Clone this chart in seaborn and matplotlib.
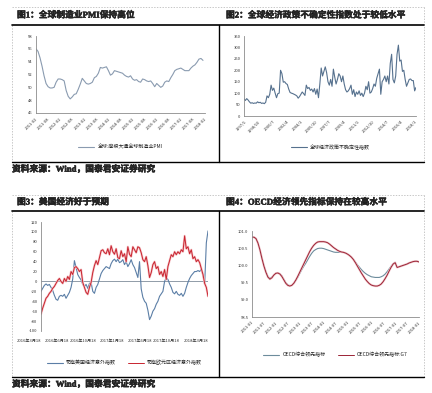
import numpy as np
import pandas as pd
import seaborn as sns
import matplotlib.pyplot as plt
import matplotlib.patheffects as pe
from matplotlib.lines import Line2D

# --- chart 1: global manufacturing PMI, monthly from 2011-02
pmi = [56.0, 55.6, 54.6, 53.3, 51.8, 50.6, 50.1, 49.9, 49.9, 50.0,
       50.8, 51.3, 51.3, 51.2, 51.0, 49.5, 48.6, 48.2, 48.5, 48.9,
       49.0, 49.7, 50.5, 51.4, 51.0, 50.6, 50.5, 50.6, 50.8, 51.5,
       51.7, 52.2, 53.1, 53.0, 53.1, 53.2, 52.6, 51.9, 52.1, 52.6,
       52.5, 52.4, 52.3, 52.2, 51.9, 51.7, 51.6, 51.8, 51.3, 51.1,
       51.2, 50.9, 50.8, 51.3, 51.2, 51.0, 50.9, 51.0, 50.6, 50.1,
       50.6, 50.3, 50.0, 50.2, 50.8, 51.0, 50.9, 51.5, 52.0, 52.6,
       52.8, 52.9, 53.0, 52.8, 52.6, 52.6, 52.6, 53.0, 53.3, 53.5,
       53.9, 54.4, 54.5, 54.2]
pmi_ticks = ['2011-02', '2011-08', '2012-02', '2012-08', '2013-02', '2013-08',
             '2014-02', '2014-08', '2015-02', '2015-08', '2016-02', '2016-08',
             '2017-02', '2017-08', '2018-02']

# --- chart 2: global economic policy uncertainty, read every 2 months from 1997/1
epu = [75, 68, 76, 70, 62, 56, 58, 55, 57, 56,
       62, 58, 60, 55, 57, 54, 60, 88, 80, 95,
       135, 112, 122, 100, 80, 98, 100, 200, 185, 148,
       150, 142, 138, 118, 103, 100, 98, 95, 92, 88,
       78, 85, 95, 105, 98, 90, 135, 120, 125, 112,
       118, 105, 120, 95, 118, 80, 140, 210, 175, 195,
       215, 190, 150, 135, 160, 130, 205, 170, 140, 160,
       185, 175, 150, 175, 140, 115, 105, 110, 120, 135,
       95, 115, 85, 105, 95, 110, 90, 100, 85, 100,
       130, 115, 150, 100, 105, 120, 140, 130, 165, 185,
       205, 95, 150, 160, 175, 150, 175, 140, 230, 270,
       160, 145, 175, 270, 310, 240, 245, 195, 200, 160,
       130, 145, 160, 162, 155, 155, 110, 125]
epu_ticks = ['1997/1', '1998/10', '2000/7', '2002/4', '2004/1', '2005/10', '2007/7',
             '2009/4', '2011/1', '2012/10', '2014/7', '2016/4', '2018/1']

# --- chart 3: citi surprise indices
cesi_us = [-20, -14, -8, -5, -8, -6, -12, -18, -28, -36,
           -38, -30, -28, -30, -26, -34, -28, -22, -12, 5,
           42, 28, 14, 8, 3, -6, -10, -6, -14, -4,
           -2, -20, -24, -12, -6, 5, 16, 22, 26, 30,
           28, 26, 36, 42, 45, 40, 45, 38, 40, 44,
           34, 40, 30, 36, 44, 34, 28, 18, 8, 40,
           -15, -32, -40, -44, -58, -77, -70, -60, -55, -46,
           -40, -30, -25, -20, 0, 8, 4, -5, -12, -22,
           -25, -20, -26, -28, -24, -30, -24, -12, -2, 6,
           12, 16, 20, 20, 22, 20, 25, 12, -6, 78, 102]
cesi_ez = [-66, -54, -44, -34, -30, -24, -20, -14, -10, -4,
           2, 6, 0, -4, 6, 0, 10, 4, 20, 14,
           28, 30, 26, 20, 24, -2, -12, -22, -26, -12,
           -2, 18, 32, 42, 34, 48, 62, 64, 58, 56,
           66, 54, 72, 60, 55, 66, 48, 46, 62, 50,
           56, 40, 70, 55, 50, 70, 64, 58, 70, 68,
           58, 44, 40, 50, 32, 8, 18, 34, 40, 26,
           30, 14, 20, 10, 24, 4, 30, 42, 54, 50,
           60, 54, 60, 56, 64, 60, 92, 66, 70, 56,
           64, 46, 50, 40, 44, 38, 26, 14, -4, -12, -30]
cesi_ticks = ['2016年3月18', '2016年6月18', '2016年10月18', '2017年1月18',
              '2017年6月18', '2017年10月18', '2018年3月18']

# --- chart 4: OECD composite leading indicators, monthly from 2011-01
cli_all = [100.82, 100.82, 100.78, 100.65, 100.45, 100.22, 100.0, 99.82, 99.68, 99.63,
           99.66, 99.72, 99.77, 99.78, 99.76, 99.7, 99.6, 99.5, 99.44, 99.41,
           99.42, 99.47, 99.56, 99.65, 99.76, 99.87, 99.97, 100.06, 100.16, 100.26,
           100.35, 100.42, 100.46, 100.49, 100.5, 100.5, 100.49, 100.47, 100.45, 100.43,
           100.41, 100.39, 100.38, 100.38, 100.38, 100.38, 100.38, 100.36, 100.33, 100.29,
           100.24, 100.18, 100.1, 100.02, 99.95, 99.88, 99.82, 99.77, 99.73, 99.7,
           99.67, 99.66, 99.65, 99.65, 99.65, 99.67, 99.7, 99.75, 99.82, 99.9,
           99.98, 100.05, 100.09, 99.94, 99.96, 99.98, 100.0, 100.02, 100.04, 100.07,
           100.09, 100.11, 100.12, 100.12, 100.1]
cli_g7 = [100.82, 100.82, 100.78, 100.65, 100.45, 100.2, 99.98, 99.8, 99.66, 99.6,
          99.64, 99.72, 99.77, 99.78, 99.75, 99.68, 99.58, 99.48, 99.42, 99.4,
          99.42, 99.48, 99.57, 99.68, 99.8, 99.92, 100.04, 100.16, 100.28, 100.4,
          100.5, 100.58, 100.64, 100.68, 100.69, 100.69, 100.69, 100.68, 100.66, 100.62,
          100.57, 100.52, 100.48, 100.44, 100.41, 100.39, 100.38, 100.36, 100.33, 100.29,
          100.24, 100.17, 100.08, 99.98, 99.88, 99.78, 99.69, 99.6, 99.53, 99.47,
          99.43, 99.41, 99.4, 99.4, 99.42, 99.46, 99.53, 99.62, 99.72, 99.84,
          99.95, 100.04, 100.08, 99.94, 99.96, 99.98, 100.0, 100.02, 100.04, 100.07,
          100.09, 100.11, 100.12, 100.12, 100.1]
cli_ticks = ['2011-01', '2011-07', '2012-01', '2012-07', '2013-01', '2013-07',
             '2014-01', '2014-07', '2015-01', '2015-07', '2016-01', '2016-07',
             '2017-01', '2017-07', '2018-01']

sns.set_style('white')
plt.rcParams['font.family'] = ['Noto Sans CJK SC', 'DejaVu Sans']
plt.rcParams['axes.unicode_minus'] = False

W, H = 432, 393
fig = plt.figure(figsize=(W / 100, H / 100), dpi=100)
TITLE_FONT = ['Liberation Serif', 'Noto Sans CJK SC']
HEAVY = [pe.withStroke(linewidth=0.3, foreground='black')]


def px_axes(x0, y0, x1, y1):
    return fig.add_axes([x0 / W, 1 - y1 / H, (x1 - x0) / W, (y1 - y0) / H])


def fline(xs, ys, **kw):
    fig.add_artist(Line2D([x / W for x in xs], [1 - y / H for y in ys],
                          transform=fig.transFigure, **kw))


def style(ax):
    for s in ['top', 'right']:
        ax.spines[s].set_visible(False)
    for s in ['left', 'bottom']:
        ax.spines[s].set_color('#8c8c8c')
        ax.spines[s].set_linewidth(0.6)
    ax.tick_params(labelsize=3, length=1.5, width=0.5, colors='#8c8c8c',
                   labelcolor='#333333', pad=1)
    ax.set_xlabel('')
    ax.set_ylabel('')


def legend(ax, y, ncol=1):
    ax.legend(loc='center', bbox_to_anchor=(0.5, y), frameon=False, fontsize=3.6,
              handlelength=3.2, ncol=ncol, columnspacing=2.5, handletextpad=0.6)


# frames: dashed outer box, black title rules, black separators
for top, rule, bottom in [(7, 25, 162), (195, 211, 377)]:
    fline([12, 424], [top, top], color='#b0b0b0', lw=0.5, ls=(0, (2, 2)))
    fline([12, 12], [rule, bottom], color='#b0b0b0', lw=0.5, ls=(0, (2, 2)))
    fline([424, 424], [top, bottom], color='#b0b0b0', lw=0.5, ls=(0, (2, 2)))
    fline([12, 424], [rule, rule], color='black', lw=1.2)
    fline([219, 219], [rule, bottom], color='black', lw=1.0)
    fline([12, 424], [bottom, bottom], color='black', lw=1.0)

titles = [(17, 15, '图1：全球制造业PMI保持高位'),
          (226, 15, '图2：全球经济政策不确定性指数处于较低水平'),
          (17, 202, '图3：美国经济好于预期'),
          (226, 202, '图4：OECD经济领先指标保持在较高水平')]
for x, y, t in titles:
    fig.text(x / W, 1 - y / H, t, family=TITLE_FONT, weight='bold',
             fontsize=6.3, va='center', ha='left', path_effects=HEAVY)
for y in [169, 384]:
    fig.text(12 / W, 1 - y / H, '资料来源：Wind，国泰君安证券研究', family=TITLE_FONT,
             weight='bold', fontsize=6.3, va='center', ha='left', path_effects=HEAVY)

# chart 1
ax1 = px_axes(36, 36, 205, 113)
df1 = pd.DataFrame({'m': range(len(pmi)), 'v': pmi})
sns.lineplot(data=df1, x='m', y='v', ax=ax1, color='#8a9bb0', lw=0.8,
             label='全球:摩根大通全球制造业PMI')
ax1.set_xlim(0, 84)
ax1.set_ylim(46, 58)
ax1.set_yticks(range(46, 59, 2))
ax1.set_xticks(range(0, 85, 6))
ax1.set_xticklabels(pmi_ticks, rotation=45, ha='right', rotation_mode='anchor')
style(ax1)
legend(ax1, -0.44)

# chart 2
ax2 = px_axes(244, 36, 416, 116)
df2 = pd.DataFrame({'m': range(0, 2 * len(epu), 2), 'v': epu})
sns.lineplot(data=df2, x='m', y='v', ax=ax2, color='#56718e', lw=0.8,
             label='全球经济政策不确定性指数')
ax2.set_xlim(0, 254)
ax2.set_ylim(0, 350)
ax2.set_yticks(range(0, 351, 50))
ax2.set_xticks(range(0, 253, 21))
ax2.set_xticklabels(epu_ticks, rotation=45, ha='right', rotation_mode='anchor')
style(ax2)
legend(ax2, -0.39)

# chart 3
ax3 = px_axes(41, 222, 208, 331)
df3 = pd.DataFrame({'d': range(len(cesi_us)), 'us': cesi_us, 'ez': cesi_ez})
ax3.axhline(0, color='#7f8c9a', lw=0.6)
sns.lineplot(data=df3, x='d', y='us', ax=ax3, color='#5b7ea6', lw=0.8,
             label='花旗美国经济意外指数')
sns.lineplot(data=df3, x='d', y='ez', ax=ax3, color='#f6c4c8', lw=1.6, legend=False)
sns.lineplot(data=df3, x='d', y='ez', ax=ax3, color='#c8242f', lw=0.7,
             label='花旗欧元区经济意外指数')
ax3.set_xlim(0, 100)
ax3.set_ylim(-100, 120)
ax3.set_yticks(range(-100, 121, 20))
ax3.set_xticks(np.linspace(0, 100, len(cesi_ticks)))
ax3.set_xticklabels(cesi_ticks, ha='right')
style(ax3)
ax3.spines['bottom'].set_visible(False)
ax3.tick_params(axis='x', length=0, pad=6)
legend(ax3, -0.29, ncol=2)

# chart 4
ax4 = px_axes(252, 231, 419, 317)
df4 = pd.DataFrame({'m': range(len(cli_all)), 'all': cli_all, 'g7': cli_g7})
sns.lineplot(data=df4, x='m', y='all', ax=ax4, color='#6d8c9c', lw=0.8,
             label='OECD综合领先指标')
sns.lineplot(data=df4, x='m', y='g7', ax=ax4, color='#f3cdd1', lw=1.6, legend=False)
sns.lineplot(data=df4, x='m', y='g7', ax=ax4, color='#9b2335', lw=0.7,
             label='OECD综合领先指标:G7')
ax4.set_xlim(0, 84)
ax4.set_ylim(98.5, 101.0)
ax4.set_yticks(np.arange(98.5, 101.01, 0.5))
ax4.set_yticklabels([f'{v:.1f}' for v in np.arange(98.5, 101.01, 0.5)])
ax4.set_xticks(range(0, 85, 6))
ax4.set_xticklabels(cli_ticks, rotation=45, ha='right', rotation_mode='anchor')
style(ax4)
legend(ax4, -0.44, ncol=2)

fig.savefig('out.png', dpi=100)
